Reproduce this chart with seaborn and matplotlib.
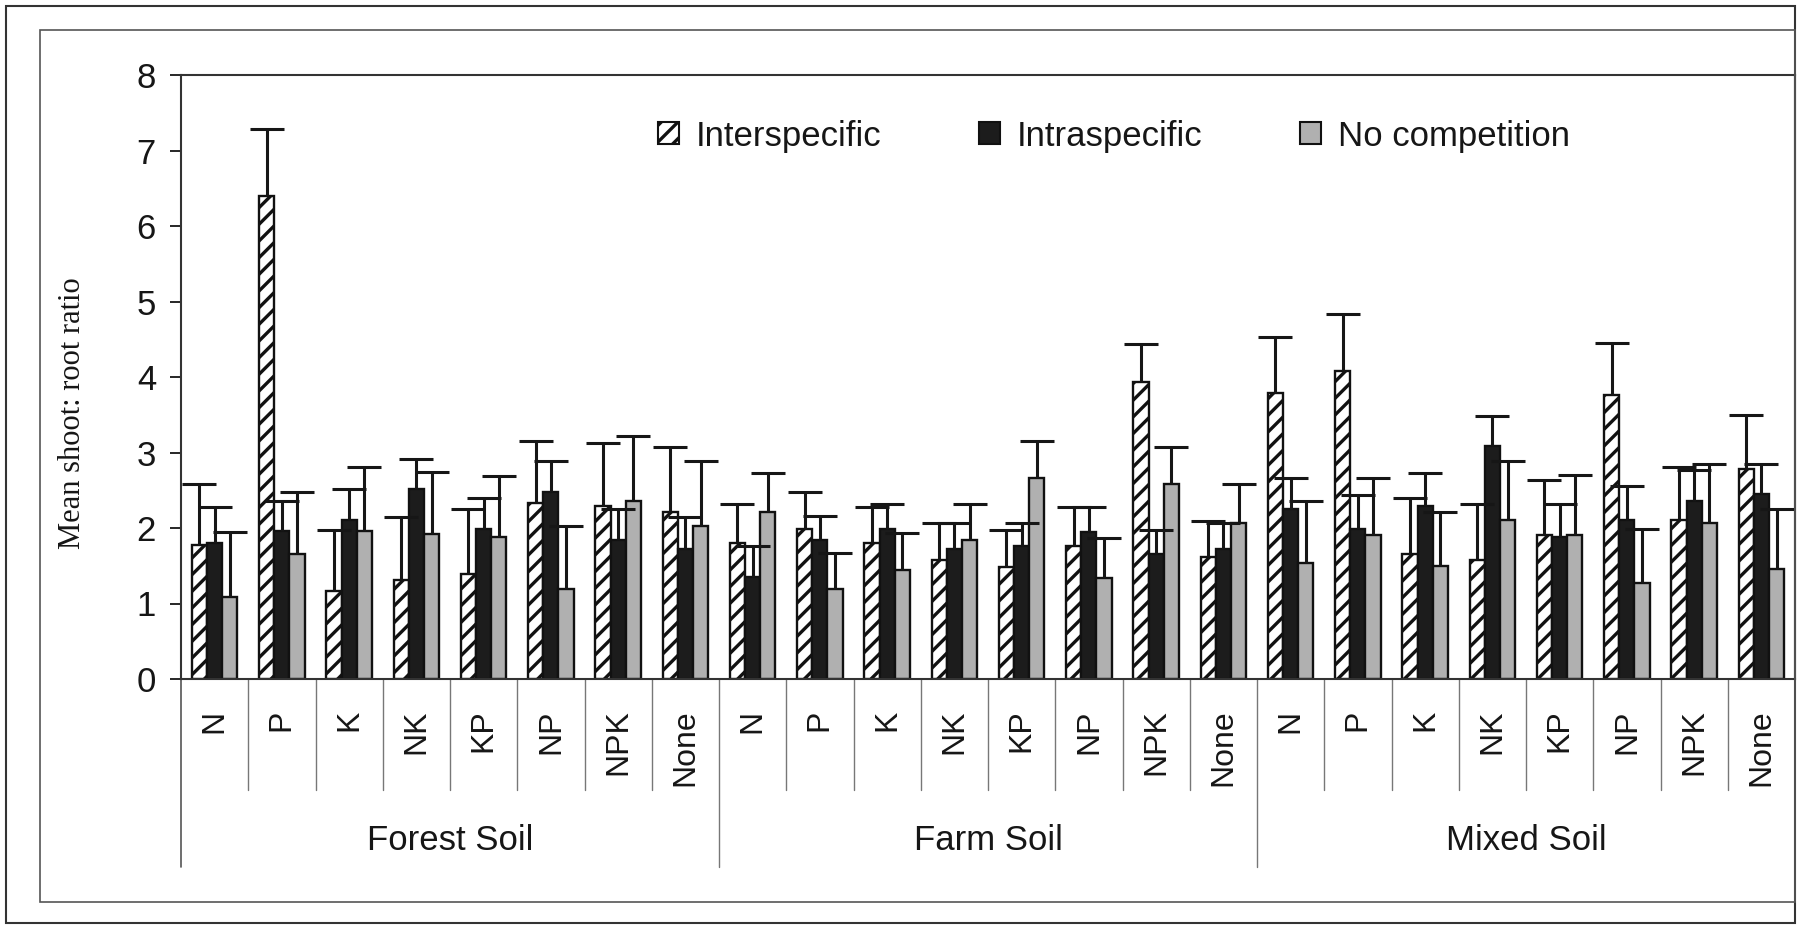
import pandas as pd
import numpy as np
import matplotlib
matplotlib.use('Agg')
import matplotlib.pyplot as plt
from matplotlib.patches import Patch, Rectangle
import seaborn as sns

# data
soils = ['Forest Soil', 'Farm Soil', 'Mixed Soil']
treatments = ['N', 'P', 'K', 'NK', 'KP', 'NP', 'NPK', 'None']
series = ['Interspecific', 'Intraspecific', 'No competition']

inter_mean = [1.77, 6.40, 1.16, 1.31, 1.39, 2.33, 2.29, 2.21,
              1.80, 1.99, 1.80, 1.57, 1.49, 1.76, 3.93, 1.61,
              3.79, 4.08, 1.65, 1.57, 1.91, 3.76, 2.10, 2.78]
inter_err = [0.81, 0.88, 0.82, 0.84, 0.86, 0.82, 0.83, 0.86,
             0.52, 0.49, 0.48, 0.49, 0.49, 0.52, 0.51, 0.48,
             0.74, 0.75, 0.75, 0.75, 0.72, 0.69, 0.71, 0.72]

intra_mean = [1.80, 1.96, 2.11, 2.52, 1.99, 2.48, 1.84, 1.72,
              1.35, 1.84, 1.99, 1.72, 1.76, 1.95, 1.65, 1.72,
              2.25, 1.99, 2.29, 3.08, 1.88, 2.10, 2.36, 2.45]
intra_err = [0.48, 0.40, 0.41, 0.40, 0.41, 0.41, 0.41, 0.42,
             0.41, 0.32, 0.33, 0.34, 0.30, 0.33, 0.33, 0.34,
             0.41, 0.45, 0.44, 0.40, 0.44, 0.45, 0.41, 0.40]

nocomp_mean = [1.08, 1.65, 1.96, 1.92, 1.88, 1.19, 2.36, 2.02,
               2.21, 1.19, 1.45, 1.84, 2.66, 1.34, 2.58, 2.06,
               1.53, 1.91, 1.50, 2.10, 1.91, 1.27, 2.07, 1.46]
nocomp_err = [0.87, 0.83, 0.85, 0.82, 0.81, 0.83, 0.86, 0.87,
              0.52, 0.48, 0.49, 0.48, 0.49, 0.53, 0.49, 0.52,
              0.83, 0.75, 0.71, 0.79, 0.79, 0.72, 0.78, 0.79]

means = [inter_mean, intra_mean, nocomp_mean]
errs = [inter_err, intra_err, nocomp_err]

slots = [f'{s}|{t}' for s in soils for t in treatments]
rows = []
for name, m, e in zip(series, means, errs):
    for slot, v, se in zip(slots, m, e):
        rows.append({'slot': slot, 'competition': name, 'ratio': v, 'err': se})
df = pd.DataFrame(rows)

sns.set_style('white')
plt.rcParams['font.family'] = ['Liberation Sans', 'DejaVu Sans']
plt.rcParams['hatch.linewidth'] = 2.4

ink = '#161616'
fig = plt.figure(figsize=(18.02, 9.26), dpi=100)
ax = fig.add_axes([181 / 1802, 1 - 679 / 926, (1795 - 181) / 1802, (679 - 75) / 926])

colors = {'Interspecific': 'white', 'Intraspecific': '#1c1c1c', 'No competition': '#b0b0b0'}
sns.barplot(data=df, x='slot', y='ratio', hue='competition', order=slots,
            hue_order=series, palette=colors, width=0.68, errorbar=None,
            edgecolor='#111111', linewidth=1.7, saturation=1, legend=False, ax=ax)

# hatching + upward-only error bars
bar_groups = list(ax.containers)
for i, cont in enumerate(bar_groups):
    bars = sorted(cont.patches, key=lambda b: b.get_x())
    if i == 0:
        for b in bars:
            b.set_hatch('//')
            b.set_facecolor('white')
    xs = [b.get_x() + b.get_width() / 2 for b in bars]
    hs = [b.get_height() for b in bars]
    eb = ax.errorbar(xs, hs, yerr=[np.zeros(len(xs)), errs[i]], fmt='none',
                     ecolor=ink, elinewidth=2.2, capsize=12, capthick=2.2, zorder=3)
    caps = eb.lines[1]
    if len(caps) == 2:
        caps[0].set_visible(False)

ax.set_xlim(-0.5, len(slots) - 0.5)
ax.set_ylim(0, 8)
ax.set_yticks(range(0, 9))
ax.tick_params(axis='y', direction='out', length=8, width=1.3, pad=10,
               labelsize=25, colors=ink, left=True)
ax.set_xticks(range(len(slots)))
ax.set_xticklabels(treatments * len(soils), rotation=90, fontsize=23)
ax.tick_params(axis='x', length=0, pad=22, colors=ink)
ax.set_xlabel('')
ax.set_ylabel('Mean shoot: root ratio', family=['Liberation Serif'], fontsize=22,
              color=ink)
ax.yaxis.set_label_coords(-0.058, 0.44)

for sp in ax.spines.values():
    sp.set_visible(True)
    sp.set_color('#333333')
    sp.set_linewidth(1.5)

# category separators and group labels below the axis
xt = ax.get_xaxis_transform()
ax.plot([0, 0], [0, -0.311], transform=ax.transAxes, clip_on=False,
        color='#555555', lw=1.2)
for k in range(1, len(slots)):
    low = -0.311 if k % len(treatments) == 0 else -0.184
    ax.plot([k - 0.5, k - 0.5], [0, low], transform=xt, clip_on=False,
            color='#777777', lw=1.0)
for g, s in enumerate(soils):
    ax.text(g * len(treatments) + (len(treatments) - 1) / 2, -0.267, s,
            transform=xt, ha='center', va='center', fontsize=25, color=ink)

handles = [Patch(facecolor='white', edgecolor='#111111', hatch='//', lw=1.5),
           Patch(facecolor='#1c1c1c', edgecolor='#111111', lw=1.5),
           Patch(facecolor='#b0b0b0', edgecolor='#111111', lw=1.5)]
leg = ax.legend(handles, series, ncol=3, frameon=False, loc='center',
                bbox_to_anchor=(0.578, 0.899), fontsize=25, handlelength=0.6,
                handleheight=0.6, handletextpad=0.5, columnspacing=2.8)
for t in leg.get_texts():
    t.set_color(ink)

# outer frames
fig.patches.append(Rectangle((6 / 1802, 1 - 923 / 926), (1795 - 6) / 1802, (923 - 6) / 926,
                             transform=fig.transFigure, fill=False, ec='#333333', lw=1.5))
fig.patches.append(Rectangle((40 / 1802, 1 - 902 / 926), (1795 - 40) / 1802, (902 - 30) / 926,
                             transform=fig.transFigure, fill=False, ec='#555555', lw=1.2))

fig.savefig('out.png', dpi=100)
